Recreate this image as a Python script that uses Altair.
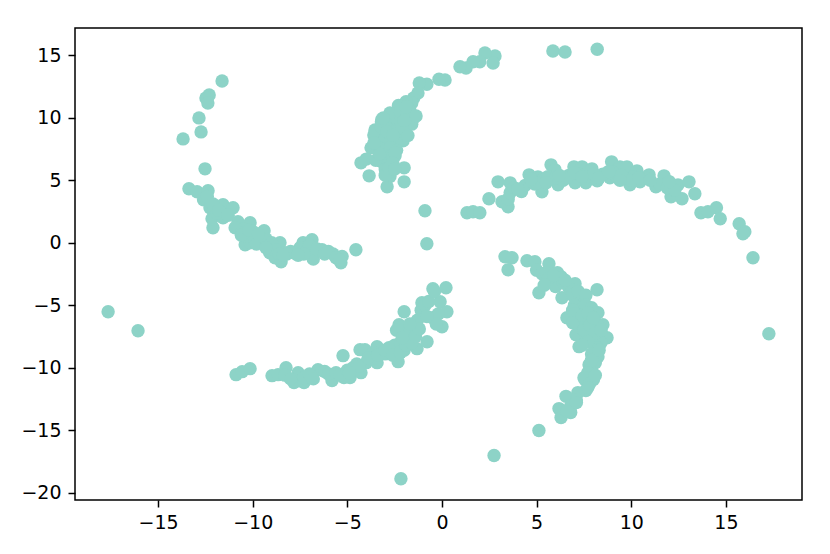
import altair as alt
import pandas as pd

top_x = [5.86,6.5,8.2,2.8,2.7,2.27,2.0,1.64,1.27,0.95,0.16,-0.16,-0.8,-1.2,-1.27,-1.5,-1.6,-1.9,-2.1,-2.3,-1.7,-1.5,-1.6,-2.0,-2.4,-2.7,-2.9,-3.2,-2.4,-2.6,-2.2,-2.9,-3.3,-3.3,-3.0,-2.5,-2.1,-4.28,-4.0,-3.85,-3.75,-3.6,-3.54,-3.17,-2.75,-1.37,-2.1,-2.06,-2.48,-2.0,-2.0,-2.9,-2.75,-3.4,-3.2,-3.0,-2.7,-2.4,-3.3,-3.0,-2.7,-2.4,-3.1,-2.8,-2.5,-3.2,-2.9,-2.6,-3.5,-3.3,-3.0,-2.7,-3.0,-2.8,-2.5,-3.2,-2.9,-2.6,-3.1,-3.6,-2.2,-1.9,-1.8,-2.0]
top_y = [15.36,15.28,15.5,14.96,14.4,15.2,14.5,14.5,14.0,14.1,13.04,13.1,12.7,12.8,12.0,11.6,11.2,11.3,10.9,11.0,10.6,10.0,9.5,10.2,10.4,10.2,9.8,9.7,9.8,9.4,9.2,9.2,9.0,8.6,8.7,8.9,8.7,6.4,6.7,5.36,7.6,8.64,9.04,9.9,10.4,10.16,9.2,8.16,6.96,6.0,4.88,4.48,5.3,8.2,8.0,8.3,8.2,8.0,7.6,7.4,7.7,7.4,7.0,6.8,7.2,6.5,6.2,6.4,6.6,7.1,5.9,5.7,5.4,6.0,5.9,9.3,8.9,8.6,10.0,8.0,10.5,10.9,8.6,9.8]

left_x = [-11.62,-12.3,-12.47,-12.37,-12.84,-12.73,-13.68,-12.52,-13.37,-12.94,-12.36,-12.6,-12.26,-12.1,-12.15,-11.57,-11.04,-11.57,-11.9,-10.78,-10.14,-10.93,-10.4,-9.4,-10.14,-8.56,-9.1,-8.82,-8.5,-7.34,-6.87,-6.8,-6.34,-5.76,-5.28,-5.34,-4.55,-12.4,-12.1,-11.8,-11.3,-10.5,-10.6,-10.3,-10.0,-9.9,-9.6,-9.8,-9.3,-9.0,-8.8,-8.3,-8.0,-7.7,-7.5,-7.1,-7.0,-6.9,-6.6,-6.2,-6.0,-5.6,-8.6,-9.3,-10.6,-10.2,-9.7,-7.3,-7.8,-8.2,-5.4,-8.4,-7.6]
left_y = [12.96,11.84,11.6,11.2,10.0,8.88,8.32,5.92,4.32,4.08,4.16,3.44,2.8,1.2,1.92,3.04,2.8,2.0,2.4,1.68,1.6,1.2,-0.16,0.96,0,0,-0.8,-1.2,-1.52,0,0.24,-1.3,-0.56,-0.9,-1.1,-1.6,-0.56,3.7,3.1,2.6,2.2,1.1,0.8,0.5,0.9,0.4,0.3,-0.1,0.3,0.0,-0.6,-0.8,-0.7,-0.9,-0.4,-0.6,-0.2,-0.9,-0.5,-0.9,-0.7,-1.2,-0.9,-0.4,0.6,1.0,0.7,-0.9,-0.8,-0.9,-1.4,-1.0,-1.0]

right_x = [1.32,1.64,2.0,2.48,2.96,3.6,3.49,3.17,3.5,3.6,4.2,4.6,5.07,5.28,5.76,5.97,6.13,6.97,7.4,7.92,7.6,7.03,8.2,8.96,8.87,9.4,9.77,10.3,9.93,10.94,10.46,11.3,11.73,12.1,12.47,12.68,13.05,13.36,13.68,14.05,14.5,14.7,15.7,16.0,15.9,16.43,3.8,4.4,4.9,5.3,5.6,6.4,6.7,7.2,8.5,9.2,9.6,10.1,10.7,11.5,11.9,12.3,6.0,6.6,7.7,8.0,9.0,9.5,10.0,5.0,4.7,4.0,5.5,6.2,7.0,7.4,8.3,8.8,9.4,10.4,11.0,12.0]
right_y = [2.4,2.48,2.4,3.52,4.88,4.8,2.88,3.28,3.5,4.0,4.1,5.44,5.28,4.08,6.24,5.84,4.64,6.08,6.08,5.92,4.8,4.8,4.96,6.48,5.2,6.08,6.08,5.76,4.64,5.44,4.88,4.48,5.36,3.68,4.64,3.52,4.88,3.92,2.4,2.48,2.8,1.92,1.52,0.88,0.72,-1.2,4.4,4.6,4.7,5.0,5.3,5.0,5.4,5.5,5.5,5.4,5.2,5.3,5.2,4.7,4.4,4.2,5.2,5.2,5.3,5.5,5.7,5.4,5.0,4.8,5.1,4.3,4.8,5.4,5.6,5.3,5.2,5.7,5.0,5.2,5.0,4.9]

lr_x = [3.33,3.7,3.49,4.49,4.91,5.65,5.12,8.19,7.03,6.29,6.34,6.6,7.08,7.24,8.72,8.5,8.24,8.24,7.77,8.0,7.55,7.6,7.18,6.55,6.18,6.8,6.29,5.12,5.0,5.3,5.5,5.8,6.0,6.1,6.7,6.9,7.2,7.4,7.6,7.0,7.3,7.6,7.9,7.3,7.6,7.9,8.2,7.5,7.8,8.1,8.4,7.9,8.2,7.9,8.1,7.8,7.7,7.5,7.8,7.6,7.4,6.9,6.4,5.6,7.1,5.4,5.9,6.5,7.0,7.2,7.5,7.8,6.9,7.4,7.7,8.1,8.4,8.0,7.7,8.3,7.4,7.9,8.1,7.7,6.8,7.1,6.6]
lr_y = [-1.12,-1.2,-2.16,-1.44,-1.52,-1.68,-4.0,-3.76,-3.28,-2.72,-4.4,-6.0,-7.36,-8.32,-7.6,-6.56,-5.6,-9.12,-9.76,-10.96,-10.96,-11.84,-12,-12.3,-13.28,-13.6,-14,-15.04,-2.2,-2.5,-2.4,-3.0,-3.5,-2.4,-3.6,-4.2,-3.9,-4.6,-4.2,-5.0,-5.4,-5.0,-5.2,-6.0,-6.2,-6.0,-6.6,-7.0,-7.2,-7.4,-8.0,-8.0,-8.4,-8.9,-9.6,-10.2,-10.4,-10.8,-11.3,-7.6,-6.6,-5.4,-3.2,-2.9,-12.6,-3.4,-2.6,-3.0,-5.7,-6.4,-7.0,-6.6,-6.4,-5.8,-5.6,-7.2,-7.0,-6.0,-7.9,-8.6,-8.2,-9.4,-10.6,-11.6,-13.1,-12.8,-13.5]

ll_x = [-10.88,-10.56,-10.14,-8.98,-8.66,-8.24,-7.82,-7.6,-7.29,-6.55,-5.81,-5.23,-5.18,-4.86,-4.33,-4.07,-4.28,-3.43,-3.43,-2.32,-2.0,-2.27,-1.32,-0.79,-1.06,-0.48,0.21,-0.1,0.26,0,-0.5,-8.3,-8.0,-7.3,-7.0,-6.8,-6.2,-6.0,-5.6,-5.4,-5.0,-4.7,-4.5,-4.0,-3.8,-3.6,-3.2,-3.0,-2.8,-2.5,-2.2,-2.0,-1.8,-1.6,-1.5,-1.9,-1.3,-1.1,-0.9,-0.7,-0.4,-0.2,-0.3,-3.9,-3.4,-3.0,-2.6,-2.2,-1.9,-1.6,-1.4,-1.2,-4.4,-4.9,-2.4,-1.7,-2.1,-0.8]
ll_y = [-10.56,-10.32,-10.08,-10.64,-10.56,-10,-11.2,-10.4,-11.2,-10.16,-11.04,-9.04,-10.8,-10.8,-8.56,-8.56,-10.4,-9.6,-8.32,-9.52,-5.52,-6.56,-8.48,-7.92,-4.8,-3.68,-3.6,-4.72,-5.52,-6.72,-6.0,-10.6,-10.9,-10.8,-10.5,-10.9,-10.3,-10.5,-10.4,-10.6,-10.2,-10.0,-9.7,-9.6,-9.0,-9.2,-8.6,-8.9,-8.4,-8.2,-8.0,-8.6,-7.7,-7.2,-6.8,-7.0,-6.2,-5.4,-5.0,-4.7,-3.9,-5.7,-6.5,-9.2,-9.0,-8.6,-9.0,-8.8,-8.2,-8.0,-7.5,-6.9,-9.9,-10.4,-7.0,-6.5,-7.6,-5.9]

other_x = [17.27,2.75,-2.17,-0.9,-0.8,-17.64,-16.06]
other_y = [-7.28,-17.04,-18.9,2.56,-0.08,-5.52,-7.04]

xticks = [-15,-10,-5,0,5,10,15]
yticks = [-20,-15,-10,-5,0,5,10,15]

xs = top_x + left_x + right_x + lr_x + ll_x + other_x
ys = top_y + left_y + right_y + lr_y + ll_y + other_y
df = pd.DataFrame({"x": xs, "y": ys})

chart = alt.Chart(df).mark_circle(size=180, color="#8dd3c7", opacity=1).encode(
    x=alt.X("x:Q", scale=alt.Scale(domain=[-19.39, 19.02], nice=False, zero=False),
            axis=alt.Axis(values=xticks, title=None, grid=False, domain=False, tickColor="black",
                          tickSize=7, tickWidth=1.5, labelColor="black", labelFont="DejaVu Sans",
                          labelFontSize=19, labelPadding=6, labelFlush=False, labelOverlap=False)),
    y=alt.Y("y:Q", scale=alt.Scale(domain=[-20.6, 17.2], nice=False, zero=False),
            axis=alt.Axis(values=yticks, title=None, grid=False, domain=False, tickColor="black",
                          tickSize=7, tickWidth=1.5, labelColor="black", labelFont="DejaVu Sans",
                          labelFontSize=19, labelPadding=7, labelOverlap=False)),
).properties(
    width=727, height=472,
    autosize=alt.AutoSizeParams(type="none"),
    padding={"left": 67, "top": 20, "right": 10, "bottom": 40},
).configure_view(stroke="black", strokeWidth=1.5)

chart.save("out.html", embed_options={"renderer": "svg", "actions": False})
